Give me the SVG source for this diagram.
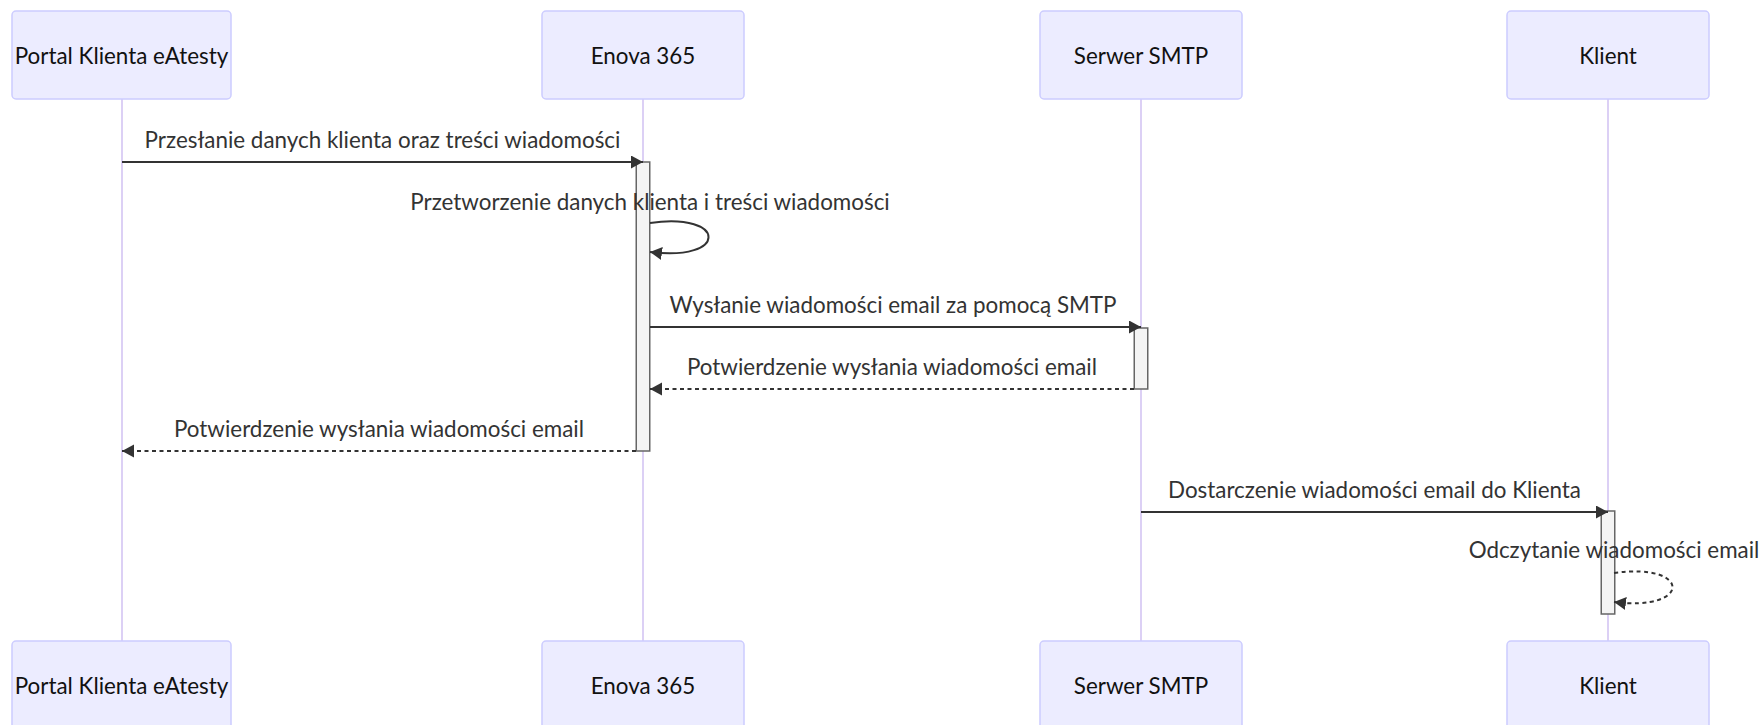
<svg xmlns="http://www.w3.org/2000/svg" width="1762" height="725" viewBox="0 0 1762 725">
<style>
.actor{fill:#ECECFF;stroke:#CCCCFF;stroke-width:1.5}
.atext{font-family:Lato,"Noto Sans",sans-serif;font-size:22.4px;fill:#111;text-anchor:middle;dominant-baseline:central}
.life{stroke:#DCD0F5;stroke-width:2}
.act{fill:#F4F4F4;stroke:#666;stroke-width:1.5}
.msg{stroke:#333;stroke-width:2;fill:none}
.dash{stroke-dasharray:4,3.5}
.mtext{font-family:Lato,"Noto Sans",sans-serif;font-size:22.4px;fill:#333;text-anchor:middle}
</style>
<defs>
<marker id="arr" markerUnits="userSpaceOnUse" markerWidth="14" markerHeight="14" refX="12" refY="6.5" orient="auto">
<path d="M0,0 L12,6.5 L0,13 z" fill="#333"/>
</marker>
</defs>
<g id="lifelines">
<line class="life" x1="122" y1="99" x2="122" y2="641"/>
<line class="life" x1="643" y1="99" x2="643" y2="641"/>
<line class="life" x1="1141" y1="99" x2="1141" y2="641"/>
<line class="life" x1="1608" y1="99" x2="1608" y2="641"/>
</g>
<g id="actor-portal">
<rect class="actor" x="12" y="11" width="219" height="88" rx="4"/>
<text class="atext" x="121.5" y="55">Portal Klienta eAtesty</text>
<rect class="actor" x="12" y="641" width="219" height="88" rx="4"/>
<text class="atext" x="121.5" y="685">Portal Klienta eAtesty</text>
</g>
<g id="actor-enova">
<rect class="actor" x="542" y="11" width="202" height="88" rx="4"/>
<text class="atext" x="643" y="55">Enova 365</text>
<rect class="actor" x="542" y="641" width="202" height="88" rx="4"/>
<text class="atext" x="643" y="685">Enova 365</text>
</g>
<g id="actor-smtp">
<rect class="actor" x="1040" y="11" width="202" height="88" rx="4"/>
<text class="atext" x="1141" y="55">Serwer SMTP</text>
<rect class="actor" x="1040" y="641" width="202" height="88" rx="4"/>
<text class="atext" x="1141" y="685">Serwer SMTP</text>
</g>
<g id="actor-klient">
<rect class="actor" x="1507" y="11" width="202" height="88" rx="4"/>
<text class="atext" x="1608" y="55">Klient</text>
<rect class="actor" x="1507" y="641" width="202" height="88" rx="4"/>
<text class="atext" x="1608" y="685">Klient</text>
</g>
<g id="activations">
<rect class="act" x="636.25" y="162" width="13.5" height="289"/>
<rect class="act" x="1134.25" y="328" width="13.5" height="61"/>
<rect class="act" x="1601.25" y="511" width="13.5" height="103"/>
</g>
<g id="connectors">
<line class="msg" x1="122" y1="162" x2="643" y2="162" marker-end="url(#arr)"/>
<text class="mtext" x="382.5" y="148">Przesłanie danych klienta oraz treści wiadomości</text>
<path class="msg" d="M650,223 C728,212 728,262 650,252" marker-end="url(#arr)"/>
<text class="mtext" x="650" y="210">Przetworzenie danych klienta i treści wiadomości</text>
<line class="msg" x1="650" y1="327" x2="1141" y2="327" marker-end="url(#arr)"/>
<text class="mtext" x="893" y="313">Wysłanie wiadomości email za pomocą SMTP</text>
<line class="msg dash" x1="1134" y1="389" x2="650" y2="389" marker-end="url(#arr)"/>
<text class="mtext" x="892" y="375">Potwierdzenie wysłania wiadomości email</text>
<line class="msg dash" x1="636" y1="451" x2="122" y2="451" marker-end="url(#arr)"/>
<text class="mtext" x="379" y="437">Potwierdzenie wysłania wiadomości email</text>
<line class="msg" x1="1141" y1="512" x2="1608" y2="512" marker-end="url(#arr)"/>
<text class="mtext" x="1374.5" y="498">Dostarczenie wiadomości email do Klienta</text>
<path class="msg dash" d="M1614,573 C1692,562 1692,612 1614,602" marker-end="url(#arr)"/>
<text class="mtext" x="1614" y="558">Odczytanie wiadomości email</text>
</g>
</svg>
